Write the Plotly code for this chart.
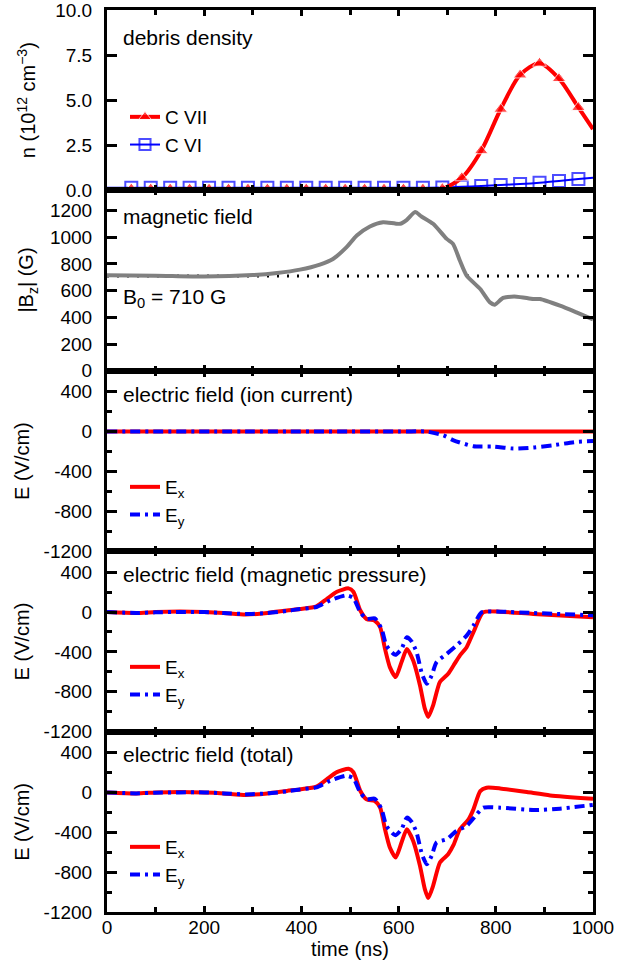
import plotly.graph_objects as go
from plotly.subplots import make_subplots

# ---------------- data ----------------
# Panel 1: debris density (10^12 cm^-3)
t_dens = [0, 50, 90, 130, 170, 210, 250, 290, 330, 370, 410, 450, 490, 530, 570, 610, 650, 690,
          730, 770, 810, 850, 890, 930, 970, 1000]
c7 = [0.08, 0.08, 0.08, 0.08, 0.08, 0.08, 0.08, 0.08, 0.08, 0.08, 0.08, 0.08, 0.08, 0.08, 0.08, 0.08, 0.08, 0.1,
      0.7, 2.2, 4.5, 6.4, 7.05, 6.2, 4.6, 3.4]
c6 = [0.15, 0.15, 0.15, 0.15, 0.15, 0.15, 0.15, 0.15, 0.15, 0.15, 0.15, 0.15, 0.15, 0.15, 0.15, 0.15, 0.15, 0.16,
      0.2, 0.24, 0.3, 0.35, 0.42, 0.52, 0.63, 0.7]

# Panel 2: |Bz| (G)
t_b = [0, 100, 200, 300, 350, 397, 438, 465, 493, 514, 541, 568, 603, 617, 634, 647, 671, 699, 712,
       726, 740, 768, 788, 798, 815, 843, 877, 891, 932, 966, 1000]
bz = [715, 712, 705, 716, 732, 757, 795, 837, 925, 1012, 1080, 1112, 1100, 1130, 1188, 1155, 1100, 987, 950,
      825, 712, 612, 512, 495, 545, 555, 537, 537, 487, 437, 385]
b0 = 710

# Panel 3: electric field (ion current)
t_ion_x = [0, 1000]
ex_ion = [0, 0]
t_ion_y = [0, 300, 600, 658, 692, 713, 754, 795, 836, 877, 918, 966, 1000]
ey_ion = [0, 0, 0, 0, -37, -87, -147, -150, -170, -160, -137, -103, -95]

# Panel 4: electric field (magnetic pressure)
t_mp_x = [0, 60, 100, 150, 200, 240, 285, 330, 370, 397, 431, 452, 473, 497, 507, 521, 534, 551, 562, 572,
          582, 594, 606, 617, 630, 644, 654, 661, 671, 685, 702, 713, 726, 740, 754, 774, 809, 877, 1000]
ex_mp = [0, -10, 0, 5, 0, -10, -25, -10, 15, 30, 57, 130, 203, 237, 203, 17, -70, -87, -153, -370,
         -553, -653, -503, -370, -487, -737, -970, -1053, -937, -703, -620, -537, -437, -353, -203, -3, 3, -20, -53]
t_mp_y = [0, 60, 100, 150, 200, 240, 285, 330, 370, 397, 431, 459, 493, 507, 521, 534, 551, 565, 575, 593,
          606, 617, 627, 637, 648, 658, 668, 678, 699, 719, 740, 754, 771, 809, 877, 1000]
ey_mp = [0, -10, -3, 0, 0, -10, -20, -10, 10, 30, 50, 117, 167, 140, 0, -70, -63, -170, -337, -430,
         -370, -253, -297, -403, -620, -720, -637, -503, -420, -337, -237, -137, -3, 3, -10, -33]

# Panel 5: electric field (total)
t_tot_x = [0, 60, 100, 150, 200, 240, 285, 330, 370, 397, 431, 452, 473, 497, 507, 521, 534, 551, 562, 572,
           582, 594, 606, 617, 630, 644, 654, 661, 671, 685, 702, 713, 726, 744, 754, 768, 781, 809, 864, 912, 1000]
ex_tot = [0, -10, 0, 5, 0, -10, -25, -10, 15, 30, 57, 130, 203, 237, 203, 17, -70, -87, -153, -370,
          -553, -653, -503, -370, -487, -737, -970, -1060, -937, -703, -620, -527, -370, -270, -170, 13, 47, 40, 3, -30, -65]
t_tot_y = [0, 60, 100, 150, 200, 240, 285, 330, 370, 397, 431, 459, 493, 507, 521, 534, 551, 565, 575, 593,
           606, 617, 627, 637, 648, 658, 668, 678, 699, 719, 740, 761, 774, 809, 877, 932, 1000]
ey_tot = [0, -10, -3, 0, 0, -10, -20, -10, 10, 30, 50, 117, 167, 140, 0, -70, -63, -170, -337, -430,
          -370, -253, -297, -403, -620, -720, -637, -503, -470, -387, -337, -220, -153, -153, -177, -163, -125]

# tick labels
x_ticks = [0, 200, 400, 600, 800, 1000]
n_ticks = [0, 2.5, 5.0, 7.5, 10.0]
n_tick_labels = ["0.0", "2.5", "5.0", "7.5", "10.0"]
b_ticks = [0, 200, 400, 600, 800, 1000, 1200]
e_ticks = [-1200, -800, -400, 0, 400]
e_tick_labels = ["-1200", "-800", "-400", "0", "400"]

panel_labels = ["debris density", "magnetic field", "electric field (ion current)",
                "electric field (magnetic pressure)", "electric field (total)"]
y_titles = ["n (10<sup>12</sup> cm<sup>−3</sup>)", "|B<sub>z</sub>| (G)", "E (V/cm)", "E (V/cm)", "E (V/cm)"]

# ---------------- figure ----------------
FONT = "Liberation Sans, Arial, Helvetica, sans-serif"
RED = "#ff0000"
BLUE = "#0000ff"
GRAY = "#808080"
DASHDOT = "10px,5px,3px,5px"

fig = make_subplots(rows=5, cols=1, shared_xaxes=True, vertical_spacing=0)

# panel 1
mk_size = [0] + [12] * (len(t_dens) - 2) + [0]
fig.add_trace(go.Scatter(x=t_dens, y=c6, name="C VI", mode="lines+markers",
                         line=dict(color=BLUE, width=2, shape="spline", smoothing=0.8),
                         marker=dict(symbol="square-open", size=mk_size, color=BLUE, line=dict(width=2)),
                         legend="legend", legendrank=2), row=1, col=1)
fig.add_trace(go.Scatter(x=t_dens, y=c7, name="C VII", mode="lines+markers",
                         line=dict(color=RED, width=4, shape="spline", smoothing=0.8),
                         marker=dict(symbol="triangle-up", size=mk_size, color=RED),
                         legend="legend", legendrank=1), row=1, col=1)

# panel 2
fig.add_trace(go.Scatter(x=[0, 1000], y=[b0, b0], mode="lines", showlegend=False,
                         line=dict(color="black", width=3, dash="2px,8px")), row=2, col=1)
fig.add_trace(go.Scatter(x=t_b, y=bz, mode="lines", showlegend=False,
                         line=dict(color=GRAY, width=4, shape="spline", smoothing=0.6)), row=2, col=1)

# panels 3-5
efield = [(t_ion_x, ex_ion, t_ion_y, ey_ion), (t_mp_x, ex_mp, t_mp_y, ey_mp), (t_tot_x, ex_tot, t_tot_y, ey_tot)]
for i, (tx, ex, ty, ey) in enumerate(efield):
    row = 3 + i
    lg = "legend%d" % (row - 1)
    fig.add_trace(go.Scatter(x=tx, y=ex, name="E<sub>x</sub>", mode="lines", legend=lg,
                             line=dict(color=RED, width=4, shape="spline", smoothing=0.6)), row=row, col=1)
    fig.add_trace(go.Scatter(x=ty, y=ey, name="E<sub>y</sub>", mode="lines", legend=lg,
                             line=dict(color=BLUE, width=4, dash=DASHDOT, shape="spline", smoothing=0.6)),
                  row=row, col=1)

axis_common = dict(showline=True, linewidth=3, linecolor="black", mirror="ticks", ticks="inside",
                   tickwidth=3, tickcolor="black", showgrid=False, zeroline=False, automargin=False,
                   ticklabeloverflow="allow", tickfont=dict(family=FONT, size=19, color="black"))

for r in range(1, 6):
    fig.update_xaxes(row=r, col=1, range=[0, 1000], tickmode="array", tickvals=x_ticks,
                     ticktext=[str(v) for v in x_ticks], ticklen=6,
                     minor=dict(dtick=100, tick0=0, ticklen=5, tickwidth=3, tickcolor="black", ticks="inside"),
                     ticklabelstandoff=-4, **axis_common)
fig.update_xaxes(row=5, col=1, title=dict(text="time (ns)", font=dict(family=FONT, size=20, color="black"),
                                          standoff=1))

fig.update_yaxes(row=1, col=1, range=[0, 10], tickmode="array", tickvals=n_ticks, ticktext=n_tick_labels,
                 ticklen=10, ticklabelstandoff=8, **axis_common)
fig.update_yaxes(row=2, col=1, range=[0, 1350], tickmode="array", tickvals=b_ticks,
                 ticktext=[str(v) for v in b_ticks], ticklen=10, ticklabelstandoff=8, **axis_common)
for r in (3, 4, 5):
    fig.update_yaxes(row=r, col=1, range=[-1200, 610], tickmode="array", tickvals=e_ticks,
                     ticktext=e_tick_labels, ticklen=10, ticklabelstandoff=8,
                     minor=dict(dtick=200, tick0=0, ticklen=5, tickwidth=3, tickcolor="black", ticks="inside"),
                     **axis_common)

annotations = []
# y-axis titles (rotated), centred on each panel
title_x_px = [26, 28, 22, 22, 22]
for k, (text, xpx) in enumerate(zip(y_titles, title_x_px)):
    annotations.append(dict(text=text, xref="paper", yref="paper", x=(xpx - 107) / 486,
                            y=1 - (k + 0.5) / 5, xanchor="center", yanchor="middle", textangle=-90,
                            showarrow=False, font=dict(family=FONT, size=20, color="black")))

# panel labels
label_y_px = [38, 216, 394, 574, 754]
for text, ypx in zip(panel_labels, label_y_px):
    annotations.append(dict(text=text, xref="paper", yref="paper", x=(121 - 107) / 486,
                            y=(912 - ypx) / 902, xanchor="left", yanchor="middle", showarrow=False,
                            font=dict(family=FONT, size=21, color="black")))
annotations.append(dict(text="B<sub>0</sub> = %d G" % b0, xref="paper", yref="paper", x=(121 - 107) / 486,
                        y=(912 - 298) / 902, xanchor="left", yanchor="middle", showarrow=False,
                        font=dict(family=FONT, size=21, color="black")))

legend_common = dict(bgcolor="rgba(0,0,0,0)", borderwidth=0, font=dict(family=FONT, size=19, color="black"),
                     xanchor="left", yanchor="top", itemwidth=30, tracegroupgap=0, traceorder="normal")
lx = (125 - 107) / 486

fig.update_layout(
    width=619, height=963,
    margin=dict(l=107, r=26, t=10, b=51),
    paper_bgcolor="white", plot_bgcolor="white",
    font=dict(family=FONT, size=19, color="black"),
    annotations=annotations,
    legend=dict(x=lx, y=(912 - 98) / 902, **legend_common),
    legend2=dict(x=lx, y=(912 - 468) / 902, **legend_common),
    legend3=dict(x=lx, y=(912 - 648) / 902, **legend_common),
    legend4=dict(x=lx, y=(912 - 828) / 902, **legend_common),
)

fig.write_html("out.html", config={"displayModeBar": False},
               post_script="document.body.style.margin='0px';")
